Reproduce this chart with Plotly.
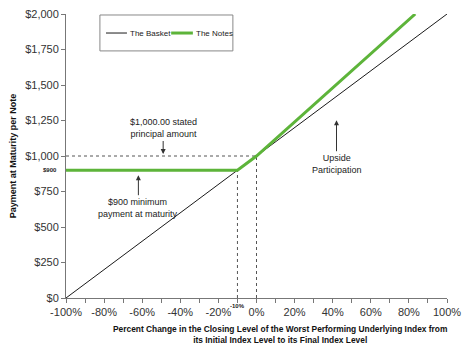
import plotly.graph_objects as go

# ---- data ----
basket_x = [-100, 100]
basket_y = [0, 2000]
notes_x = [-100, -10, 0, 83.33]
notes_y = [900, 900, 1000, 2000]
x_tick_vals = [-100, -80, -60, -40, -20, 0, 20, 40, 60, 80, 100]
x_tick_text = ["-100%", "-80%", "-60%", "-40%", "-20%", "0%", "20%", "40%", "60%", "80%", "100%"]
y_tick_vals = [0, 250, 500, 750, 1000, 1250, 1500, 1750, 2000]
y_tick_text = ["$0", "$250", "$500", "$750", "$1,000", "$1,250", "$1,500", "$1,750", "$2,000"]
buffer_level = -10
buffer_pay = 900
principal = 1000

FONT = "Liberation Sans, Arial, sans-serif"
BASKET_COLOR = "#1a1a1a"
NOTES_COLOR = "#5db43a"

fig = go.Figure()
fig.add_trace(go.Scatter(x=basket_x, y=basket_y, mode="lines", name="The Basket",
                         line=dict(color=BASKET_COLOR, width=1), showlegend=False))
fig.add_trace(go.Scatter(x=notes_x, y=notes_y, mode="lines", name="The Notes",
                         line=dict(color=NOTES_COLOR, width=3), showlegend=False))

dash = dict(color="#555555", width=1, dash="dot")
fig.add_shape(type="line", x0=-100, x1=0, y0=principal, y1=principal, line=dash, layer="below")
fig.add_shape(type="line", x0=buffer_level, x1=buffer_level, y0=0, y1=buffer_pay, line=dash, layer="below")
fig.add_shape(type="line", x0=0, x1=0, y0=0, y1=principal, line=dash, layer="below")

# manual legend (box, samples, labels)
fig.add_shape(type="rect", xref="paper", yref="paper", x0=0.089, x1=0.438, y0=0.870, y1=0.9965,
              line=dict(color="#888888", width=1), fillcolor="white", layer="below")
leg_y = 0.933
fig.add_shape(type="line", xref="paper", yref="paper", x0=0.105, x1=0.160, y0=leg_y, y1=leg_y,
              line=dict(color=BASKET_COLOR, width=1))
fig.add_shape(type="line", xref="paper", yref="paper", x0=0.276, x1=0.333, y0=leg_y, y1=leg_y,
              line=dict(color=NOTES_COLOR, width=3))
leg_font = dict(family=FONT, size=8, color="#222")
fig.add_annotation(xref="paper", yref="paper", x=0.163, y=leg_y, text="The Basket", showarrow=False,
                   xanchor="left", yanchor="middle", font=leg_font)
fig.add_annotation(xref="paper", yref="paper", x=0.336, y=leg_y, text="The Notes", showarrow=False,
                   xanchor="left", yanchor="middle", font=leg_font)

ann_font = dict(family=FONT, size=9, color="#222222")
fig.add_annotation(x=-49, y=principal, ax=0, ay=-15, text="$1,000.00 stated<br>principal amount",
                   showarrow=True, arrowhead=2, arrowsize=1, arrowwidth=1, arrowcolor="#333",
                   font=ann_font, standoff=2, yanchor="bottom")
fig.add_annotation(x=-62, y=buffer_pay, ax=0, ay=25, text="$900 minimum<br>payment at maturity",
                   showarrow=True, arrowhead=2, arrowsize=1, arrowwidth=1, arrowcolor="#333",
                   font=ann_font, standoff=5, yanchor="top")
fig.add_annotation(x=42, y=1252, ax=0, ay=31, text="Upside<br>Participation",
                   showarrow=True, arrowhead=2, arrowsize=1, arrowwidth=1, arrowcolor="#333",
                   font=ann_font, standoff=0, yanchor="top")
fig.add_annotation(x=buffer_level, y=0, yref="y", text="<b>-10%</b>", showarrow=False,
                   font=dict(family=FONT, size=6, color="#222"), yshift=-8)
fig.add_annotation(x=0, xref="paper", y=buffer_pay, text="<b>$900</b>", showarrow=False,
                   font=dict(family=FONT, size=6, color="#222"), xanchor="right", xshift=-7)

# x-axis title as annotation (offset to the right as in the reference)
fig.add_annotation(xref="paper", yref="paper", x=0.5617, y=-0.083, xanchor="center", yanchor="top",
                   text="<b>Percent Change in the Closing Level of the Worst Performing Underlying Index from<br>its Initial Index Level to its Final Index Level</b>",
                   showarrow=False, font=dict(family=FONT, size=8.4, color="#111"))

fig.update_layout(
    width=470, height=344,
    margin=dict(l=66, r=23, t=14, b=46),
    paper_bgcolor="white", plot_bgcolor="white",
    font=dict(family=FONT, size=11, color="#222"),
    showlegend=False,
    xaxis=dict(range=[-100, 100], tickvals=x_tick_vals, ticktext=x_tick_text, automargin=False,
               showgrid=False, zeroline=False, showline=True, linecolor="#777", linewidth=1,
               ticks="outside", ticklen=4, tickcolor="#777",
               minor=dict(dtick=10, tick0=0, ticks="outside", ticklen=4, tickcolor="#777"),
               tickfont=dict(size=11, color="#333")),
    yaxis=dict(range=[0, 2000], tickvals=y_tick_vals, ticktext=y_tick_text, automargin=False,
               showgrid=False, zeroline=False, showline=True, linecolor="#777", linewidth=1,
               ticks="outside", ticklen=4, tickcolor="#777",
               tickfont=dict(size=11, color="#333"),
               title=dict(text="<b>Payment at Maturity per Note</b>", font=dict(size=9, color="#111"),
                          standoff=6)),
)
fig.write_html("out.html")
